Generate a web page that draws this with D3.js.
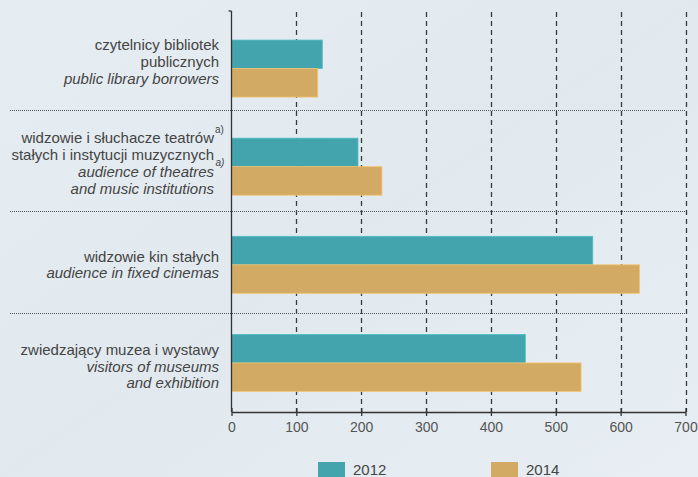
<!DOCTYPE html>
<html>
<head>
<meta charset="utf-8">
<script src="https://cdn.jsdelivr.net/npm/d3@7"></script>
<style>
  html, body { margin: 0; padding: 0; overflow: hidden; }
  svg { display: block; font-family: "Liberation Sans", Arial, sans-serif; }
</style>
</head>
<body>
<svg id="chart" width="698" height="477"></svg>
<script>
// Categories (Polish / English label lines) and values in thousands
const categories = ["library", "theatres", "cinemas", "museums"];
const labelsPl = [
  ["czytelnicy bibliotek", "publicznych"],
  ["widzowie i słuchacze teatrów", "stałych i instytucji muzycznych"],
  ["widzowie kin stałych"],
  ["zwiedzający muzea i wystawy"]
];
const labelsEn = [
  ["public library borrowers"],
  ["audience of theatres", "and music institutions"],
  ["audience in fixed cinemas"],
  ["visitors of museums", "and exhibition"]
];
const series = ["2012", "2014"];
const values2012 = [140, 195, 557, 453];
const values2014 = [133, 232, 629, 539];
const xTicks = [0, 100, 200, 300, 400, 500, 600, 700];

const svg = d3.select("#chart");
const width = +svg.attr("width");
const height = +svg.attr("height");

const colors = { "2012": "#43a4ad", "2014": "#d3aa63" };

// Background gradient
const defs = svg.append("defs");
const grad = defs.append("linearGradient")
  .attr("id", "bg").attr("x1", "0").attr("y1", "0").attr("x2", "1").attr("y2", "1");
grad.append("stop").attr("offset", "0%").attr("stop-color", "#e6edf2");
grad.append("stop").attr("offset", "50%").attr("stop-color", "#e1e9ef");
grad.append("stop").attr("offset", "100%").attr("stop-color", "#e8eef3");
svg.append("rect").attr("width", width).attr("height", height).attr("fill", "url(#bg)");

const plotTop = 11;
const plotBottom = 412;

const x = d3.scaleLinear().domain([0, 700]).range([231.5, 685.5]);

// bands for bar groups, and for the dotted separators / labels
const y = d3.scaleBand().domain(categories).range([19.5, 412]);
const ySep = d3.scaleBand().domain(categories).range([8, 414]);
const ySeries = d3.scaleBand().domain(series).range([-28.5, 28.5]);

// Dashed vertical gridlines
svg.append("g")
  .selectAll("line")
  .data(xTicks.slice(1))
  .join("line")
  .attr("x1", (d) => Math.round(x(d)) + 0.5)
  .attr("x2", (d) => Math.round(x(d)) + 0.5)
  .attr("y1", plotTop + 1)
  .attr("y2", plotBottom)
  .attr("stroke", "#3a3a3a")
  .attr("stroke-width", 1.3)
  .attr("stroke-dasharray", "5,4");

// Dotted horizontal separators
svg.append("g")
  .selectAll("line")
  .data(categories.slice(1))
  .join("line")
  .attr("x1", 10)
  .attr("x2", x(700))
  .attr("y1", (d) => Math.round(ySep(d)) + 0.5)
  .attr("y2", (d) => Math.round(ySep(d)) + 0.5)
  .attr("stroke", "#555")
  .attr("stroke-width", 1)
  .attr("stroke-dasharray", "1,1");

// Bars
const rows = categories.map((c, i) => ({ cat: c, values: [values2012[i], values2014[i]] }));
const groups = svg.append("g")
  .selectAll("g")
  .data(rows)
  .join("g")
  .attr("transform", (d) => `translate(0,${y(d.cat) + y.bandwidth() / 2})`);

groups.selectAll("rect")
  .data((d) => d.values.map((v, j) => ({ s: series[j], v })))
  .join("rect")
  .attr("x", x(0))
  .attr("y", (d) => ySeries(d.s))
  .attr("width", (d) => x(d.v) - x(0))
  .attr("height", ySeries.bandwidth())
  .attr("fill", (d) => colors[d.s])
  .attr("stroke", (d) => d3.color(colors[d.s]).brighter(0.4))
  .attr("stroke-width", 0.8);

// Axes
const axisColor = "#333";
svg.append("line")
  .attr("x1", x(0)).attr("x2", x(0))
  .attr("y1", plotTop).attr("y2", plotBottom)
  .attr("stroke", axisColor).attr("stroke-width", 1.3);
svg.append("line")
  .attr("x1", x(0) - 3).attr("x2", x(0))
  .attr("y1", plotTop).attr("y2", plotTop)
  .attr("stroke", axisColor).attr("stroke-width", 1.3);

const xAxis = svg.append("g")
  .attr("transform", `translate(0,${plotBottom})`)
  .call(d3.axisBottom(x).tickValues(xTicks).tickSizeInner(4).tickSizeOuter(0).tickPadding(6));
xAxis.select(".domain").attr("stroke", axisColor).attr("stroke-width", 1.3);
xAxis.selectAll(".tick line")
  .attr("y1", -4).attr("y2", 4)
  .attr("stroke", axisColor).attr("stroke-width", 1.3);
xAxis.selectAll(".tick text")
  .attr("fill", "#555")
  .attr("font-size", 14)
  .attr("font-family", "Liberation Sans, Arial, sans-serif");

// Category labels, centred in the separator bands
const lineH = 16.8;
const labels = svg.append("g")
  .attr("font-size", 15)
  .attr("fill", "#444");

categories.forEach((c, i) => {
  const lines = labelsPl[i].map((t) => ({ t, it: false }))
    .concat(labelsEn[i].map((t) => ({ t, it: true })));
  const cy = ySep(c) + ySep.bandwidth() / 2 + 3;
  const top = cy - (lines.length - 1) * lineH / 2;
  const ax = c === "theatres" ? 214 : 219;
  lines.forEach((l, k) => {
    labels.append("text")
      .attr("x", ax)
      .attr("y", top + k * lineH)
      .attr("dy", "0.35em")
      .attr("text-anchor", "end")
      .attr("font-style", l.it ? "italic" : "normal")
      .text(l.t);
  });
  if (c === "theatres") {
    labels.append("text")
      .attr("x", ax + 1).attr("y", top - 5)
      .attr("font-size", 10).text("a)");
    labels.append("text")
      .attr("x", ax + 1.5).attr("y", top + 2 * lineH - 6)
      .attr("font-size", 10).attr("font-style", "italic").text("a)");
  }
});

// Legend
const legend = svg.append("g");
const legendX = [318, 491];
series.forEach((s, i) => {
  legend.append("rect")
    .attr("x", legendX[i]).attr("y", 462)
    .attr("width", 27).attr("height", 18)
    .attr("fill", colors[s]);
  legend.append("text")
    .attr("x", legendX[i] + 35).attr("y", 469.5)
    .attr("dy", "0.35em")
    .attr("font-size", 15)
    .attr("fill", "#444")
    .text(s);
});
</script>
</body>
</html>
